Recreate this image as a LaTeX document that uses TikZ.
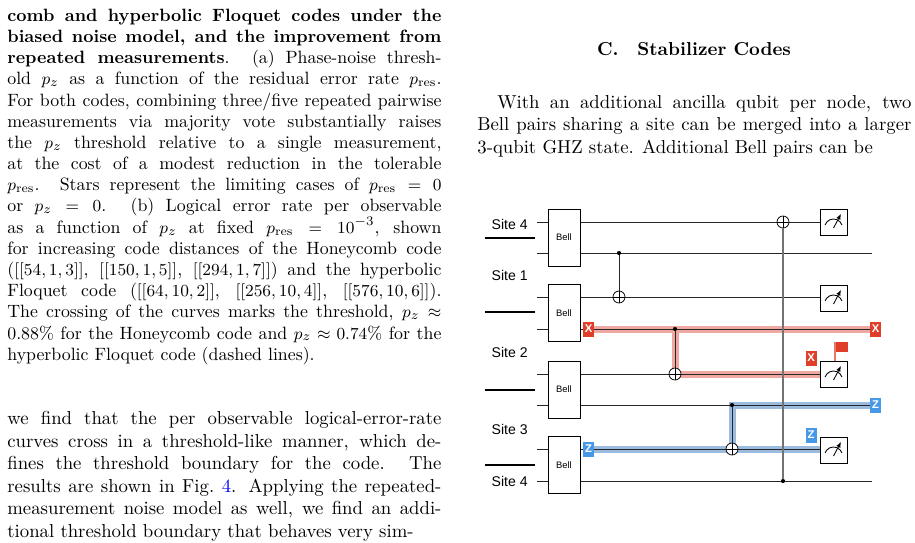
\documentclass[tikz,border=0pt]{standalone}
\usepackage{fontspec}
\usepackage{amsmath}
\newfontfamily\circfont{Liberation Sans}
\usetikzlibrary{positioning,arrows.meta}
\definecolor{errred}{RGB}{222,62,42}
\definecolor{hlred}{RGB}{240,168,162}
\definecolor{errblue}{RGB}{72,152,232}
\definecolor{hlblue}{RGB}{155,188,222}
\definecolor{linkblue}{RGB}{0,0,255}
\newcommand{\pu}{0.5333pt}
\tikzset{
  wire/.style={line width=0.5pt, black!85},
  sep/.style={line width=0.6pt},
  site/.style={font=\circfont\fontsize{7.5}{8}\selectfont, anchor=east, inner sep=0},
  bell/.style={draw, line width=0.4pt, fill=white, minimum width=32*\pu, minimum height=57*\pu,
    inner sep=0, font=\circfont\fontsize{5}{6}\selectfont},
  meter/.style={draw, line width=0.4pt, fill=white, minimum width=27*\pu, minimum height=26*\pu,
    path picture={
      \draw[line width=0.45pt] ([yshift=-6*\pu]path picture bounding box.center) ++(160:9*\pu)
        arc[start angle=160, end angle=20, radius=9*\pu];
      \draw[line width=0.45pt, -{Latex[length=3pt,width=2.4pt]}]
        ([yshift=-6*\pu]path picture bounding box.center) -- ++(62:16*\pu);}},
  target/.style={circle, draw, line width=0.4pt, fill=white, minimum size=12*\pu, inner sep=0,
    path picture={
      \draw[line width=0.4pt] (path picture bounding box.north) -- (path picture bounding box.south)
        (path picture bounding box.west) -- (path picture bounding box.east);}},
  ctrl/.style={circle, fill, inner sep=0, minimum size=2.2pt},
  errbox/.style={fill=#1, text=white, inner sep=0, minimum width=11*\pu, minimum height=15*\pu,
    font=\circfont\bfseries\fontsize{6}{6}\selectfont},
  redpath/.style={line width=7*\pu, hlred},
  bluepath/.style={line width=7*\pu, hlblue},
  para/.style={anchor=north west, inner sep=0, text width=231.5pt, align=justify}
}
\begin{document}
\begin{tikzpicture}[x={(0.5333pt,0)}, y={(0,-0.5333pt)}]
\useasboundingbox (0,0) rectangle (915,542);

% Caption text
\node[para, font=\fontsize{9.5}{11.3}\selectfont] (caption) at (7,8.5) {%
\textbf{comb and hyperbolic Floquet codes under the}\linebreak
\textbf{biased noise model, and the improvement from}\linebreak
\textbf{repeated measurements}. (a) Phase-noise thresh-\linebreak
old $p_z$ as a function of the residual error rate $p_{\mathrm{res}}$.\linebreak
For both codes, combining three/five repeated pairwise\linebreak
measurements via majority vote substantially raises\linebreak
the $p_z$ threshold relative to a single measurement,\linebreak
at the cost of a modest reduction in the tolerable\linebreak
$p_{\mathrm{res}}$. Stars represent the limiting cases of $p_{\mathrm{res}}=0$\linebreak
or $p_z=0$. (b) Logical error rate per observable\linebreak
as a function of $p_z$ at fixed $p_{\mathrm{res}}=10^{-3}$, shown\linebreak
for increasing code distances of the Honeycomb code\linebreak
($[[54,1,3]]$, $[[150,1,5]]$, $[[294,1,7]]$) and the hyperbolic\linebreak
Floquet code ($[[64,10,2]]$, $[[256,10,4]]$, $[[576,10,6]]$).\linebreak
The crossing of the curves marks the threshold, $p_z\approx$\linebreak
0.88\% for the Honeycomb code and $p_z\approx0.74\%$ for the\linebreak
hyperbolic Floquet code (dashed lines).};

% Body text
\node[para, font=\fontsize{10}{12}\selectfont] (body) at (7,411) {%
\parfillskip=0pt\noindent
we find that the per observable logical-error-rate\linebreak
curves cross in a threshold-like manner, which de-\linebreak
fines the threshold boundary for the code. The\linebreak
results are shown in Fig.~\textcolor{linkblue}{4}. Applying the repeated-\linebreak
measurement noise model as well, we find an addi-\linebreak
tional threshold boundary that behaves very sim-};

\node[font=\fontsize{10}{12}\selectfont\bfseries, anchor=base] (heading) at (694,55) {C.\quad Stabilizer Codes};
\node[para, font=\fontsize{10}{12}\selectfont] (intro) at (477,95) {%
\parfillskip=0pt\parindent=10.7pt\indent
With an additional ancilla qubit per node, two\linebreak
Bell pairs sharing a site can be merged into a larger\linebreak
3-qubit GHZ state. Additional Bell pairs can be};

% Sites
\node[site] (s4a) at (528,224) {Site 4};
\node[site] (s1) at (528,275) {Site 1};
\node[site] (s2) at (528,352) {Site 2};
\node[site] (s3) at (528,429) {Site 3};
\node[site] (s4b) at (528,481) {Site 4};
\foreach \y in {238,312,390,465}
  \draw[sep] (485,\y) -- (535,\y);

% Highlighted error paths
\draw[redpath] (588,329) -- (875,329);
\draw[redpath] (675,329) -- (675,374) -- (820,374);
\draw[bluepath] (588,449) -- (820,449);
\draw[bluepath] (732,449) -- (732,405) -- (875,405);

% Wires
\foreach \y/\e in {222/820,253/872,297/820,329/872,374/820,405/872,449/820,481/872}
  \draw[wire] (537,\y) -- (\e,\y);

% Bell pairs
\node[bell] (bellA) at (564,237.5) {Bell};
\node[bell] (bellB) at (564,313) {Bell};
\node[bell] (bellC) at (564,389.5) {Bell};
\node[bell] (bellD) at (564,465) {Bell};

% CNOTs
\node[ctrl] (c1) at (619,253) {};
\node[target] (t1) at (619,297) {};
\draw[wire] (c1) -- (t1.north);
\node[ctrl] (c2) at (675,329) {};
\node[target] (t2) at (675,374) {};
\draw[wire] (c2) -- (t2.north);
\node[ctrl] (c3) at (732,405) {};
\node[target] (t3) at (732,449) {};
\draw[wire] (c3) -- (t3.north);
\node[ctrl] (c4) at (783,481) {};
\node[target] (t4) at (783,222) {};
\draw[line width=0.6pt, black!55] (c4) -- (t4.south);

% Measurements
\node[meter] (m1) at (833.5,222) {};
\node[meter] (m2) at (833.5,298) {};
\node[meter] (m3) at (833.5,374) {};
\node[meter] (m4) at (833.5,450) {};

% Errors
\node[errbox=errred] (xin) at (588.5,329) {X};
\node[errbox=errred] (xout) at (875.5,329) {X};
\node[errbox=errred] (xm) at (811,358) {X};
\coordinate (pole) at (835,342);
\fill[errred] (pole) rectangle (848,352);
\draw[errred!70, line width=0.6pt] (pole) -- (835,361);
\node[errbox=errblue] (zin) at (588.5,449) {Z};
\node[errbox=errblue] (zout) at (875.5,405) {Z};
\node[errbox=errblue] (zm) at (811,435) {Z};
\end{tikzpicture}
\end{document}
